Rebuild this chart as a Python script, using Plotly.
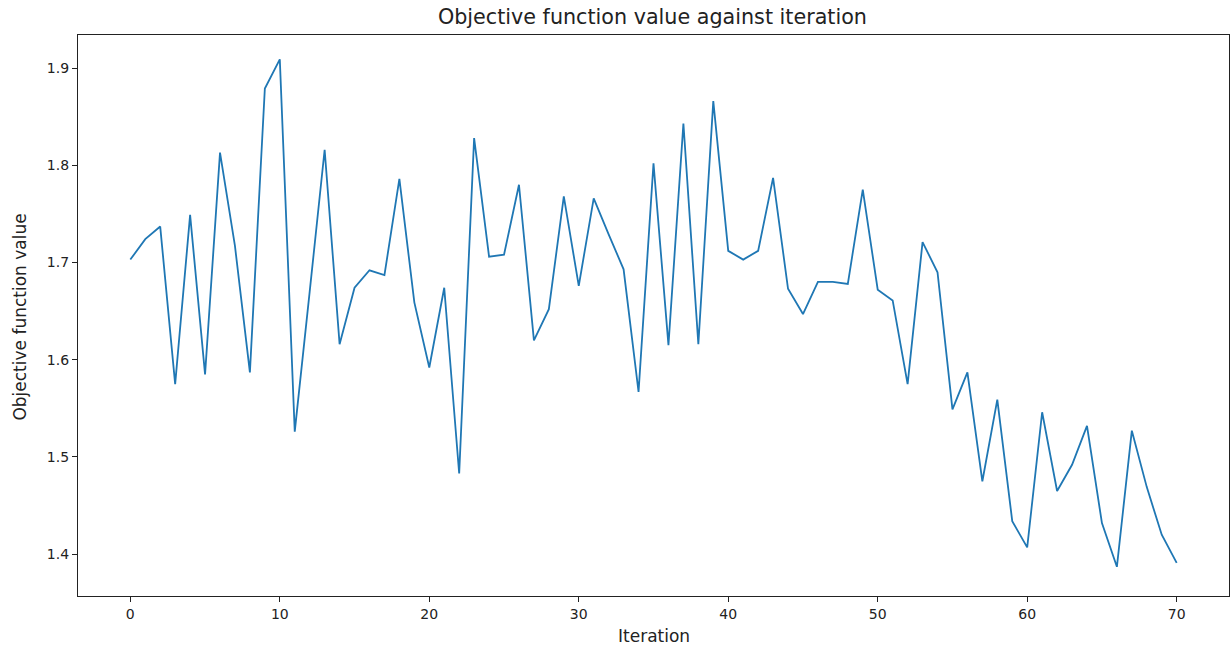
import plotly.graph_objects as go

iterations = list(range(71))
objective_values = [
    1.703, 1.724, 1.737, 1.575, 1.749, 1.585, 1.813, 1.717, 1.587, 1.879,
    1.909, 1.526, 1.670, 1.816, 1.616, 1.674, 1.692, 1.687, 1.786, 1.659,
    1.592, 1.674, 1.483, 1.828, 1.706, 1.708, 1.780, 1.620, 1.652, 1.768,
    1.676, 1.766, 1.729, 1.693, 1.567, 1.802, 1.615, 1.843, 1.616, 1.866,
    1.712, 1.703, 1.712, 1.787, 1.673, 1.647, 1.680, 1.680, 1.678, 1.775,
    1.672, 1.661, 1.575, 1.721, 1.690, 1.549, 1.587, 1.475, 1.559, 1.434,
    1.407, 1.546, 1.465, 1.492, 1.532, 1.432, 1.387, 1.527, 1.469, 1.420,
    1.391,
]
x_ticks = [0, 10, 20, 30, 40, 50, 60, 70]
y_ticks = [1.4, 1.5, 1.6, 1.7, 1.8, 1.9]

fig = go.Figure()
fig.add_trace(go.Scatter(
    x=iterations, y=objective_values, mode="lines",
    line=dict(color="#1f77b4", width=1.8),
    showlegend=False,
))

font = "DejaVu Sans, sans-serif"
axis_common = dict(
    showline=True, linecolor="#222", linewidth=1.2, mirror=True,
    ticks="outside", ticklen=5, tickcolor="#222", tickwidth=1,
    showgrid=False, zeroline=False,
    tickfont=dict(family=font, size=14, color="#222"),
)
fig.update_layout(
    width=1232, height=649,
    margin=dict(l=78, r=3, t=35, b=53),
    paper_bgcolor="white", plot_bgcolor="white",
    title=dict(text="Objective function value against iteration",
               x=0.5296, xanchor="center", y=0.974, yanchor="middle",
               font=dict(family=font, size=20.7, color="#222")),
    xaxis=dict(range=[-3.5, 73.5], tickvals=x_ticks, **axis_common),
    yaxis=dict(range=[1.357, 1.934], tickvals=y_ticks,
               ticktext=[f"{v:.1f}" for v in y_ticks], **axis_common),
    annotations=[
        dict(text="Iteration", xref="paper", yref="paper", x=0.5, y=-0.0713,
             xanchor="center", yanchor="middle", showarrow=False,
             font=dict(family=font, size=17, color="#222")),
        dict(text="Objective function value", xref="paper", yref="paper",
             x=-0.0504, y=0.498, xanchor="center", yanchor="middle",
             textangle=-90, showarrow=False,
             font=dict(family=font, size=17, color="#222")),
    ],
)
fig.write_html("out.html")
